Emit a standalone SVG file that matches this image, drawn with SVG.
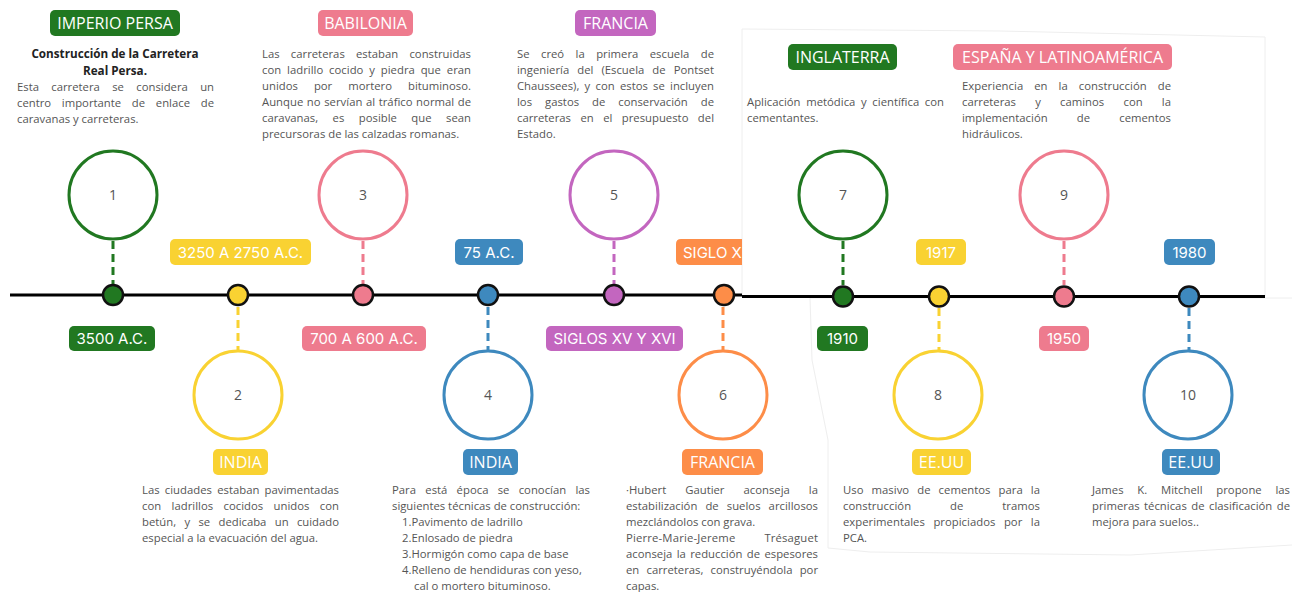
<svg xmlns="http://www.w3.org/2000/svg" width="1292" height="592" viewBox="0 0 1292 592">
<style>
.body{font-family:"Open Sans","Liberation Sans",sans-serif;font-size:11.3px;fill:#555}
.ttl{font-family:"Open Sans","Liberation Sans",sans-serif;font-size:11.7px;font-weight:bold;fill:#222;text-anchor:middle}
.lbl{font-family:"Open Sans","Liberation Sans",sans-serif;font-size:16px;fill:#fff;text-anchor:middle}
.date{font-family:Inter,"Liberation Sans",sans-serif;font-size:15px;fill:#fff;text-anchor:middle}
.num{font-family:"Open Sans","Liberation Sans",sans-serif;font-size:14px;fill:#555;text-anchor:middle}
.ring{fill:#fff;stroke-width:3}
.dot{stroke:#111;stroke-width:2.5}
.dash{stroke-width:3;stroke-dasharray:8 5;fill:none}
.line{stroke:#000;stroke-width:3;fill:none}
.edge{stroke:#eeeeee;stroke-width:1;fill:none}
.gF{fill:#217821}.gS{stroke:#217821}
.yF{fill:#f9d232}.yS{stroke:#f9d232}
.pF{fill:#ee7b8e}.pS{stroke:#ee7b8e}
.bF{fill:#3e89be}.bS{stroke:#3e89be}
.vF{fill:#c366bf}.vS{stroke:#c366bf}
.oF{fill:#fd8d48}.oS{stroke:#fd8d48}
</style>
<defs>
<clipPath id="cutX"><rect x="0" y="0" width="742" height="592"/></clipPath>
</defs>
<rect width="1292" height="592" fill="#fff"/>

<g id="panels">
<polyline class="edge" points="742,296 742,29 1000,31 1265,37 1265,296"/>
<polyline class="edge" points="810,298 1292,298"/>
<polyline class="edge" points="810,298 812,360 828,440 828,548 870,552 1130,555 1292,545"/>
</g>

<g id="connectors">
<line class="line" x1="10" y1="295" x2="742" y2="295"/>
<line class="line" x1="742" y1="296.5" x2="1265" y2="296.5"/>
<line class="dash gS" x1="113" y1="241" x2="113" y2="284"/>
<line class="dash yS" x1="238" y1="307" x2="238" y2="350"/>
<line class="dash pS" x1="363" y1="241" x2="363" y2="284"/>
<line class="dash bS" x1="488" y1="307" x2="488" y2="350"/>
<line class="dash vS" x1="614" y1="241" x2="614" y2="284"/>
<line class="dash oS" x1="723" y1="307" x2="723" y2="350"/>
<line class="dash gS" x1="843" y1="241" x2="843" y2="285"/>
<line class="dash yS" x1="939" y1="308" x2="939" y2="350"/>
<line class="dash pS" x1="1064" y1="241" x2="1064" y2="285"/>
<line class="dash bS" x1="1189" y1="308" x2="1189" y2="350"/>
</g>

<g id="node1">
<rect class="gF" x="50" y="10" width="130" height="26" rx="5"/>
<text class="lbl" x="115" y="28.7">IMPERIO PERSA</text>
<text class="ttl" x="115" y="58">Construcción de la Carretera</text>
<text class="ttl" x="115" y="75">Real Persa.</text>
<text class="body" x="17" y="91" textLength="197" lengthAdjust="spacing" style="word-spacing:9.4px">Esta carretera se considera un</text>
<text class="body" x="17" y="107" textLength="197" lengthAdjust="spacing" style="word-spacing:7.8px">centro importante de enlace de</text>
<text class="body" x="17" y="123">caravanas y carreteras.</text>
<circle class="ring gS" cx="113" cy="195" r="44"/>
<text class="num" x="113" y="200">1</text>
<circle class="dot gF" cx="113" cy="295" r="10"/>
<rect class="gF" x="69" y="326" width="86" height="25" rx="5"/>
<text class="date" x="112" y="344">3500 A.C.</text>
</g>

<g id="node2">
<rect class="yF" x="170" y="239" width="141" height="26" rx="5"/>
<text class="date" x="240.5" y="257.5">3250 A 2750 A.C.</text>
<circle class="dot yF" cx="238" cy="295" r="10"/>
<circle class="ring yS" cx="238" cy="395" r="44"/>
<text class="num" x="238" y="400">2</text>
<rect class="yF" x="213" y="449" width="55" height="26" rx="5"/>
<text class="lbl" x="240.5" y="467.7">INDIA</text>
<text class="body" x="142" y="494" textLength="197" lengthAdjust="spacing" style="word-spacing:2.3px">Las ciudades estaban pavimentadas</text>
<text class="body" x="142" y="510" textLength="197" lengthAdjust="spacing" style="word-spacing:7.4px">con ladrillos cocidos unidos con</text>
<text class="body" x="142" y="526" textLength="197" lengthAdjust="spacing" style="word-spacing:5.4px">betún, y se dedicaba un cuidado</text>
<text class="body" x="142" y="542">especial a la evacuación del agua.</text>
</g>

<g id="node3">
<rect class="pF" x="318" y="10" width="95" height="26" rx="5"/>
<text class="lbl" x="365.5" y="28.7">BABILONIA</text>
<text class="body" x="262" y="58" textLength="209" lengthAdjust="spacing" style="word-spacing:8.3px">Las carreteras estaban construidas</text>
<text class="body" x="262" y="74" textLength="209" lengthAdjust="spacing" style="word-spacing:2.9px">con ladrillo cocido y piedra que eran</text>
<text class="body" x="262" y="90" textLength="209" lengthAdjust="spacing" style="word-spacing:13.1px">unidos por mortero bituminoso.</text>
<text class="body" x="262" y="106" textLength="209" lengthAdjust="spacing" style="word-spacing:0.6px">Aunque no servían al tráfico normal de</text>
<text class="body" x="262" y="122" textLength="209" lengthAdjust="spacing" style="word-spacing:11.5px">caravanas, es posible que sean</text>
<text class="body" x="262" y="138">precursoras de las calzadas romanas.</text>
<circle class="ring pS" cx="363" cy="195" r="44"/>
<text class="num" x="363" y="200">3</text>
<circle class="dot pF" cx="363" cy="295" r="10"/>
<rect class="pF" x="302" y="326" width="124" height="25" rx="5"/>
<text class="date" x="364" y="344">700 A 600 A.C.</text>
</g>

<g id="node4">
<rect class="bF" x="455" y="239" width="68" height="26" rx="5"/>
<text class="date" x="489" y="257.5">75 A.C.</text>
<circle class="dot bF" cx="488" cy="295" r="10"/>
<circle class="ring bS" cx="488" cy="395" r="44"/>
<text class="num" x="488" y="400">4</text>
<rect class="bF" x="463" y="449" width="55" height="26" rx="5"/>
<text class="lbl" x="490.5" y="467.7">INDIA</text>
<text class="body" x="392" y="494" textLength="198" lengthAdjust="spacing" style="word-spacing:6.3px">Para está época se conocían las</text>
<text class="body" x="392" y="510">siguientes técnicas de construcción:</text>
<text class="body" x="402" y="526">1.Pavimento de ladrillo</text>
<text class="body" x="402" y="542">2.Enlosado de piedra</text>
<text class="body" x="402" y="558">3.Hormigón como capa de base</text>
<text class="body" x="402" y="574">4.Relleno de hendiduras con yeso,</text>
<text class="body" x="414" y="590">cal o mortero bituminoso.</text>
</g>

<g id="node5">
<rect class="vF" x="575" y="10" width="81" height="26" rx="5"/>
<text class="lbl" x="615.5" y="28.7">FRANCIA</text>
<text class="body" x="517" y="58" textLength="197" lengthAdjust="spacing" style="word-spacing:8.5px">Se creó la primera escuela de</text>
<text class="body" x="517" y="74" textLength="197" lengthAdjust="spacing" style="word-spacing:5.1px">ingeniería del (Escuela de Pontset</text>
<text class="body" x="517" y="90" textLength="197" lengthAdjust="spacing" style="word-spacing:2.3px">Chaussees), y con estos se incluyen</text>
<text class="body" x="517" y="106" textLength="197" lengthAdjust="spacing" style="word-spacing:10px">los gastos de conservación de</text>
<text class="body" x="517" y="122" textLength="197" lengthAdjust="spacing" style="word-spacing:6.5px">carreteras en el presupuesto del</text>
<text class="body" x="517" y="138">Estado.</text>
<circle class="ring vS" cx="614" cy="195" r="44"/>
<text class="num" x="614" y="200">5</text>
<circle class="dot vF" cx="614" cy="295" r="10"/>
<rect class="vF" x="546" y="326" width="137" height="25" rx="5"/>
<text class="date" x="614.5" y="344">SIGLOS XV Y XVI</text>
</g>

<g id="node6">
<path class="oF" d="M681,239 H742 V265 H681 Q676,265 676,260 V244 Q676,239 681,239 Z"/>
<text class="date" x="683" y="257.5" style="text-anchor:start" clip-path="url(#cutX)">SIGLO X</text>
<circle class="dot oF" cx="724" cy="295" r="10"/>
<circle class="ring oS" cx="723" cy="395" r="44"/>
<text class="num" x="723" y="400">6</text>
<rect class="oF" x="682" y="449" width="81" height="26" rx="5"/>
<text class="lbl" x="722.5" y="467.7">FRANCIA</text>
<text class="body" x="626" y="494" textLength="192" lengthAdjust="spacing" style="word-spacing:16.1px">·Hubert Gautier aconseja la</text>
<text class="body" x="626" y="510" textLength="192" lengthAdjust="spacing" style="word-spacing:5.1px">estabilización de suelos arcillosos</text>
<text class="body" x="626" y="526">mezclándolos con grava.</text>
<text class="body" x="626" y="542" textLength="192" lengthAdjust="spacing" style="word-spacing:25.9px">Pierre-Marie-Jereme Trésaguet</text>
<text class="body" x="626" y="558" textLength="192" lengthAdjust="spacing" style="word-spacing:1.4px">aconseja la reducción de espesores</text>
<text class="body" x="626" y="574" textLength="192" lengthAdjust="spacing" style="word-spacing:4.3px">en carreteras, construyéndola por</text>
<text class="body" x="626" y="590">capas.</text>
</g>

<g id="node7">
<rect class="gF" x="788" y="44" width="109" height="26" rx="5"/>
<text class="lbl" x="842.5" y="62.7">INGLATERRA</text>
<text class="body" x="747" y="106" textLength="197" lengthAdjust="spacing" style="word-spacing:2.7px">Aplicación metódica y científica con</text>
<text class="body" x="747" y="122">cementantes.</text>
<circle class="ring gS" cx="843" cy="195" r="44"/>
<text class="num" x="843" y="200">7</text>
<circle class="dot gF" cx="843" cy="296.5" r="10"/>
<rect class="gF" x="817" y="326" width="51" height="25" rx="5"/>
<text class="date" x="842.5" y="344">1910</text>
</g>

<g id="node8">
<rect class="yF" x="916" y="239" width="50" height="26" rx="5"/>
<text class="date" x="941" y="257.5">1917</text>
<circle class="dot yF" cx="939" cy="296.5" r="10"/>
<circle class="ring yS" cx="938" cy="395" r="44"/>
<text class="num" x="938" y="400">8</text>
<rect class="yF" x="912" y="449" width="59" height="26" rx="5"/>
<text class="lbl" x="941.5" y="467.7">EE.UU</text>
<text class="body" x="843" y="494" textLength="197" lengthAdjust="spacing" style="word-spacing:5.1px">Uso masivo de cementos para la</text>
<text class="body" x="843" y="510" textLength="197" lengthAdjust="spacing" style="word-spacing:35.8px">construcción de tramos</text>
<text class="body" x="843" y="526" textLength="197" lengthAdjust="spacing" style="word-spacing:5.6px">experimentales propiciados por la</text>
<text class="body" x="843" y="542">PCA.</text>
</g>

<g id="node9">
<rect class="pF" x="953" y="44" width="219" height="26" rx="5"/>
<text class="lbl" x="1062.5" y="62.7">ESPAÑA Y LATINOAMÉRICA</text>
<text class="body" x="962" y="90" textLength="209" lengthAdjust="spacing" style="word-spacing:8px">Experiencia en la construcción de</text>
<text class="body" x="962" y="106" textLength="209" lengthAdjust="spacing" style="word-spacing:16.3px">carreteras y caminos con la</text>
<text class="body" x="962" y="122" textLength="209" lengthAdjust="spacing" style="word-spacing:26.2px">implementación de cementos</text>
<text class="body" x="962" y="138">hidráulicos.</text>
<circle class="ring pS" cx="1064" cy="195" r="44"/>
<text class="num" x="1064" y="200">9</text>
<circle class="dot pF" cx="1064" cy="296.5" r="10"/>
<rect class="pF" x="1039" y="326" width="50" height="25" rx="5"/>
<text class="date" x="1064" y="344">1950</text>
</g>

<g id="node10">
<rect class="bF" x="1164" y="239" width="51" height="26" rx="5"/>
<text class="date" x="1189.5" y="257.5">1980</text>
<circle class="dot bF" cx="1189" cy="296.5" r="10"/>
<circle class="ring bS" cx="1188" cy="395" r="44"/>
<text class="num" x="1188" y="400">10</text>
<rect class="bF" x="1162" y="449" width="58" height="26" rx="5"/>
<text class="lbl" x="1191" y="467.7">EE.UU</text>
<text class="body" x="1092" y="494" textLength="198" lengthAdjust="spacing" style="word-spacing:10.8px">James K. Mitchell propone las</text>
<text class="body" x="1092" y="510" textLength="198" lengthAdjust="spacing" style="word-spacing:1.5px">primeras técnicas de clasificación de</text>
<text class="body" x="1092" y="526">mejora para suelos..</text>
</g>
</svg>
